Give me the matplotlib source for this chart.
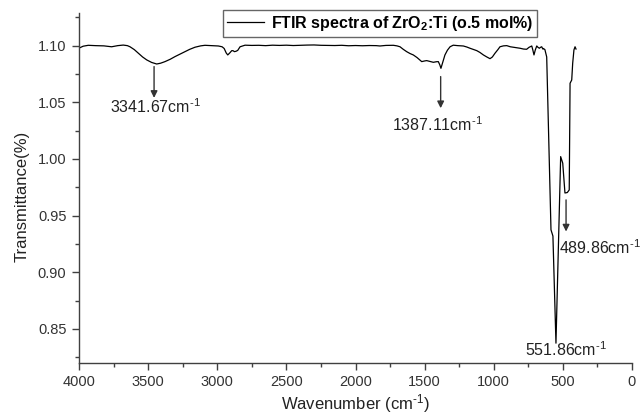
import matplotlib
matplotlib.use("Agg")
import matplotlib.pyplot as plt
from matplotlib.ticker import MultipleLocator

plt.rcParams['font.family'] = ['Liberation Sans', 'DejaVu Sans']
plt.rcParams['mathtext.fontset'] = 'custom'
plt.rcParams['mathtext.rm'] = 'Liberation Sans'
plt.rcParams['mathtext.it'] = 'Liberation Sans:italic'
plt.rcParams['mathtext.bf'] = 'Liberation Sans:bold'

wavenumber = [4000, 3970, 3933, 3880, 3820, 3788, 3764, 3720, 3680, 3650, 3631, 3600, 3571, 3540,
              3510, 3475, 3438, 3410, 3378, 3340, 3306, 3270, 3233, 3200, 3161, 3120, 3089, 3040,
              2992, 2965, 2950, 2935, 2924, 2910, 2895, 2885, 2876, 2865, 2852, 2835, 2799, 2750,
              2700, 2650, 2600, 2550, 2500, 2450, 2400, 2350, 2300, 2250, 2200, 2150, 2100, 2050,
              2000, 1950, 1900, 1850, 1823, 1780, 1726, 1700, 1678, 1655, 1630, 1605, 1582, 1555,
              1521, 1500, 1485, 1460, 1437, 1415, 1401, 1390, 1382, 1370, 1353, 1335, 1316, 1293,
              1260, 1220, 1195, 1172, 1150, 1123, 1100, 1075, 1050, 1027, 1010, 991, 970, 955,
              930, 906, 880, 859, 835, 810, 785, 762, 745, 725, 717, 709, 700, 689, 680, 670,
              662, 653, 645, 641, 630, 617, 586, 572, 550, 516, 501, 485, 468, 454, 448, 436,
              429, 420, 412, 405]
transmittance = [1.0978, 1.0995, 1.1003, 1.1000, 1.0998, 1.0993, 1.0990, 1.1000, 1.1005, 1.1000,
                 1.0990, 1.0965, 1.0933, 1.0900, 1.0874, 1.0852, 1.0838, 1.0845, 1.0859, 1.0880,
                 1.0903, 1.0925, 1.0947, 1.0967, 1.0986, 1.0998, 1.1003, 1.1000, 1.0997, 1.0990,
                 1.0975, 1.0935, 1.0918, 1.0935, 1.0956, 1.0955, 1.0947, 1.0950, 1.0958, 1.0990,
                 1.1004, 1.1002, 1.1003, 1.1000, 1.1004, 1.1002, 1.1004, 1.1001, 1.1003, 1.1005,
                 1.1006, 1.1003, 1.1002, 1.1001, 1.1003, 1.0999, 1.1001, 1.0999, 1.1001, 1.1000,
                 1.0997, 1.1002, 1.1003, 1.0998, 1.0990, 1.0968, 1.0947, 1.0930, 1.0918, 1.0895,
                 1.0859, 1.0865, 1.0868, 1.0860, 1.0853, 1.0858, 1.0859, 1.0830, 1.0800, 1.0850,
                 1.0918, 1.0960, 1.0990, 1.1004, 1.1000, 1.0997, 1.0988, 1.0977, 1.0968, 1.0956,
                 1.0940, 1.0918, 1.0900, 1.0885, 1.0900, 1.0933, 1.0965, 1.0990, 1.0998, 1.1000,
                 1.0990, 1.0986, 1.0982, 1.0977, 1.0970, 1.0968, 1.0985, 1.0997, 1.0960, 1.0918,
                 1.0960, 1.0997, 1.0985, 1.0977, 1.0985, 1.0990, 1.0970, 1.0975, 1.0965, 1.0900,
                 0.9375, 0.9320, 0.8375, 1.0021, 0.9963, 0.9700, 0.9704, 0.9727, 1.0668, 1.0697,
                 1.0845, 1.0962, 1.0990, 1.0970]

# peak annotations: (label, arrow x, arrow tail y, arrow head y, text x, text y)
peak_labels = ["3341.67", "1387.11", "489.86"]
peak_x = [3457, 1384, 477]
peak_tail = [1.0815, 1.0727, 0.9639]
peak_head = [1.0539, 1.0448, 0.9360]
text_x = [3776, 1733, 528]
text_y = [1.0459, 1.0300, 0.9216]
min_label = "551.86"
min_text_x, min_text_y = 774, 0.8316

unit = r"cm$^{\text{-1}}$"
legend_label = r"FTIR spectra of ZrO$_\mathbf{2}$:Ti (o.5 mol%)"

fig = plt.figure(figsize=(6.43, 4.16), dpi=100)
ax = fig.add_axes([79/643, 1-363/416, 553/643, 350/416])

ax.plot(wavenumber, transmittance, color='black', lw=0.9, label=legend_label)

ax.set_xlim(4000, 0)
ax.set_ylim(0.820, 1.1288)
ax.xaxis.set_major_locator(MultipleLocator(500))
ax.xaxis.set_minor_locator(MultipleLocator(250))
ax.yaxis.set_major_locator(MultipleLocator(0.05))
ax.yaxis.set_minor_locator(MultipleLocator(0.025))
ax.yaxis.set_major_formatter(matplotlib.ticker.FormatStrFormatter('%.2f'))

for s in ['top', 'right']:
    ax.spines[s].set_visible(False)
for s in ['left', 'bottom']:
    ax.spines[s].set_color('#404040')
    ax.spines[s].set_linewidth(1.0)

ax.tick_params(which='major', direction='out', length=5, width=1, color='#404040',
               labelsize=10.5, labelcolor='#333333', pad=4)
ax.tick_params(which='minor', direction='out', length=3, width=1, color='#404040')

ax.set_xlabel("Wavenumber (" + unit + ")", fontsize=12, color='#222222', labelpad=2)
ax.set_ylabel("Transmittance(%)", fontsize=12, color='#222222')
ax.yaxis.set_label_coords(-0.089, 0.475)

for lab, px, ty, hy, tx, tyy in zip(peak_labels, peak_x, peak_tail, peak_head, text_x, text_y):
    ax.annotate('', xy=(px, hy), xytext=(px, ty),
                arrowprops=dict(arrowstyle='-|>', color='#333333', lw=1.0,
                                mutation_scale=10, shrinkA=0, shrinkB=0))
    ax.text(tx, tyy, lab + unit, fontsize=11.5, color='#222222',
            ha='left', va='center')
ax.text(min_text_x, min_text_y, min_label + unit, fontsize=11.5, color='#222222',
        ha='left', va='center')

leg = ax.legend(loc='upper left', bbox_to_anchor=(0.260, 1.0086), borderaxespad=0,
                frameon=True, fancybox=False, handlelength=2.3, handletextpad=0.45,
                borderpad=0.25, prop={'weight': 'bold', 'size': 11.5})
leg.get_frame().set_edgecolor('#404040')
leg.get_frame().set_linewidth(1.0)

fig.savefig('out.png', dpi=100)
